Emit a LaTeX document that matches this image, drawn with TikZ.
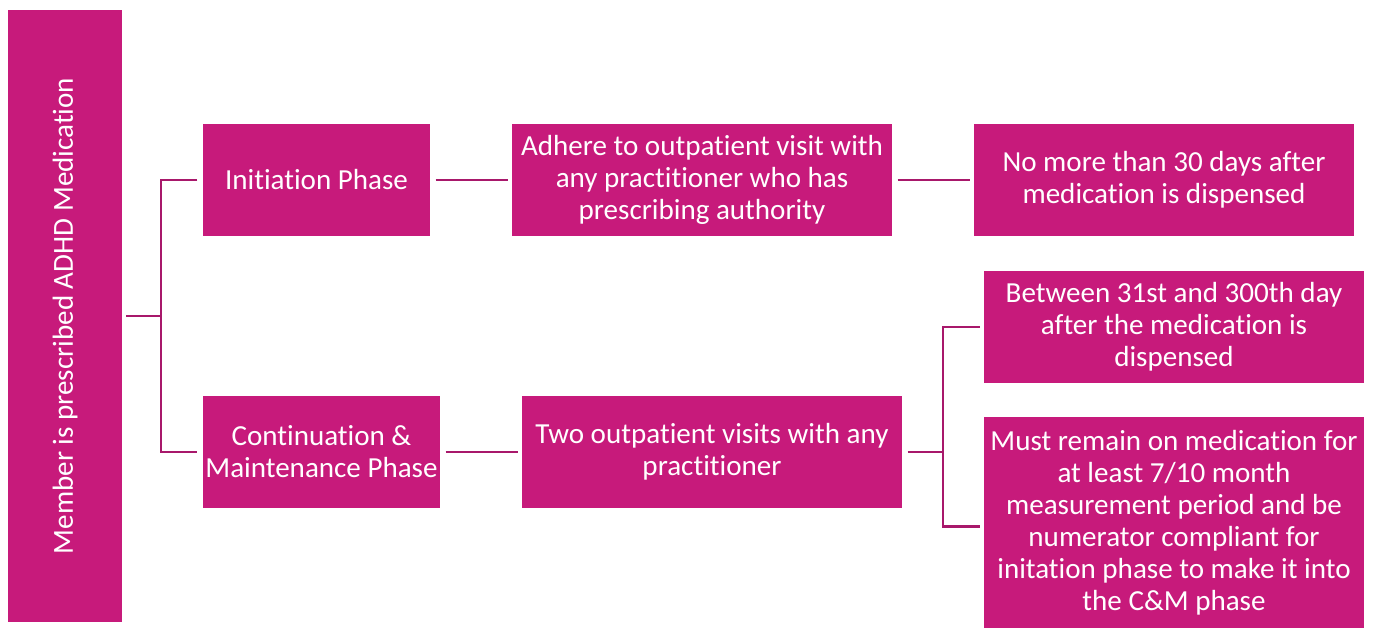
\documentclass[tikz,border=0pt]{standalone}
\usepackage{fontspec}
\setmainfont{Carlito}[RawFeature={-liga;-clig;-calt;-dlig}]
\usepackage{tikz}

\definecolor{adhdpink}{HTML}{C71A7B}
\definecolor{adhdline}{HTML}{A8186B}
\newcommand{\phasefont}{\fontsize{21.8}{24}\selectfont}

\tikzset{
  phasebox/.style={fill=adhdpink, text=white, inner sep=0pt, align=center,
    font=\phasefont, minimum height=84pt},
  widebox/.style={phasebox, minimum width=285pt},
  link/.style={draw=adhdline, line width=2pt}
}

\begin{document}
\begin{tikzpicture}[x=0.75pt, y=-0.75pt]
    \useasboundingbox (0,0) rectangle (1377,628);

    % boxes
    \node[phasebox, minimum width=459pt, minimum height=85.5pt, rotate=90] (member) at (65,316)
        {Member is prescribed ADHD Medication};
    \node[phasebox, minimum width=170.25pt] (init) at (316.5,180) {Initiation Phase};
    \node[widebox] (adhere) at (702,180)
        {Adhere to outpatient visit with\\any practitioner who has\\prescribing authority};
    \node[widebox] (nomore) at (1164,180)
        {No more than 30 days after\\medication is dispensed};
    \node[phasebox, minimum width=177.75pt] (cont) at (321.5,452)
        {Continuation \&\\Maintenance Phase};
    \node[widebox] (two) at (712,452)
        {Two outpatient visits with any\\practitioner};
    \node[widebox] (between) at (1174,327)
        {Between 31st and 300th day\\after the medication is\\dispensed};
    \node[widebox, minimum height=158.25pt] (must) at (1174,522.5)
        {Must remain on medication for\\at least 7/10 month\\measurement period and be\\numerator compliant for\\initation phase to make it into\\the C\&M phase};

    % connectors
    \coordinate (forkA) at (161,316);
    \coordinate (forkB) at (943,452);
    \draw[link] ([xshift=3pt]member.south) -- (forkA);
    \draw[link] ([xshift=-4pt]init.west) -| (forkA) |- ([xshift=-4pt]cont.west);
    \draw[link] ([xshift=4pt]init.east) -- ([xshift=-3pt]adhere.west);
    \draw[link] ([xshift=4pt]adhere.east) -- ([xshift=-3pt]nomore.west);
    \draw[link] ([xshift=4pt]cont.east) -- ([xshift=-3pt]two.west);
    \draw[link] ([xshift=4pt]two.east) -- (forkB);
    \draw[link] ([xshift=-3pt]between.west) -| (forkB) |- ([xshift=-3pt,yshift=-3pt]must.west);
\end{tikzpicture}
\end{document}
